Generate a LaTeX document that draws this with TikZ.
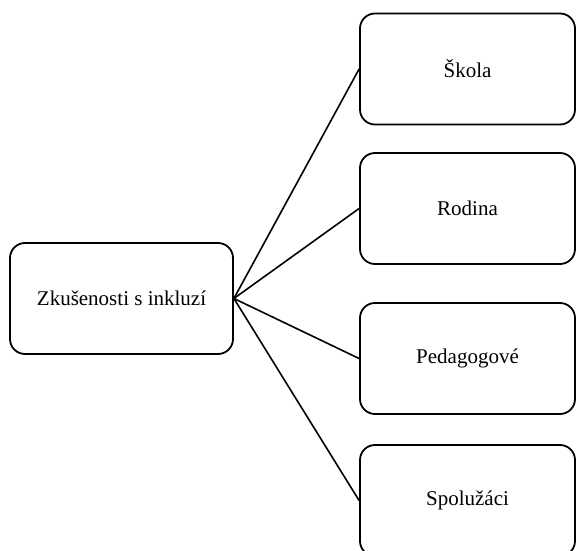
\documentclass[tikz,border=0pt]{standalone}
\usepackage{fontspec}
\setmainfont{Liberation Serif}
\usepackage{tikz}

\begin{document}
\begin{tikzpicture}[x = 1pt, y = 1pt, every node/.style = {draw = black, shape = rectangle, rounded corners = 15pt, line width = 1.8pt, minimum height = 111pt, font = \fontsize{21}{25}\selectfont}, link/.style = {line width = 1.6pt}]
	\useasboundingbox (0, 0) rectangle (576, 550);
	%\node (Z) at (121.5, 251.5) {Zkušenosti s inkluzí};
	\node[minimum width = 223pt] (Z) at (121.5, 251.5) {Zkušenosti s inkluzí};
	\node[minimum width = 215pt] (S) at (467.5, 481) {Škola};
	\node[minimum width = 215pt] (R) at (467.5, 341.5) {Rodina};
	\node[minimum width = 215pt] (P) at (467.5, 191.5) {Pedagogové};
	\node[minimum width = 215pt] (L) at (467.5, 49.5) {Spolužáci};
	\draw[link] (Z.east) -- (S.west);
	\draw[link] (Z.east) -- (R.west);
	\draw[link] (Z.east) -- (P.west);
	\draw[link] (Z.east) -- (L.west);
\end{tikzpicture}
\end{document}
